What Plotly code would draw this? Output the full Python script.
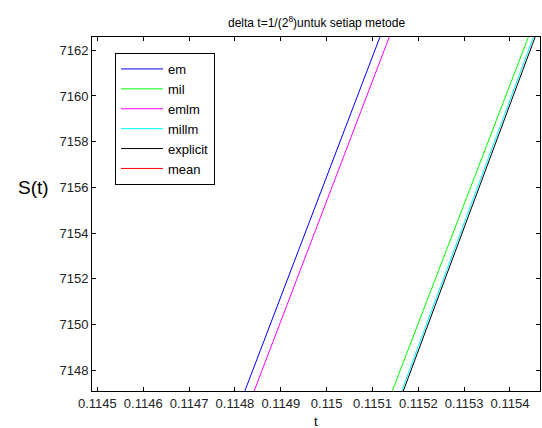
import plotly.graph_objects as go

# Data: each method's trajectory segment S(t) near t ~ 0.1150
S_vals = [7146.0, 7164.0]
t_em = [0.1148009, 0.1151434]
t_mil = [0.1151223, 0.1154674]
t_emlm = [0.1148212, 0.1151637]
t_millm = [0.1151436, 0.1154774]
t_explicit = [0.1151471, 0.1154812]
t_mean = [0.1156200, 0.1159600]

series = [
    ("em", t_em, "#0000ff"),
    ("mil", t_mil, "#00ff00"),
    ("emlm", t_emlm, "#ff00ff"),
    ("millm", t_millm, "#00ffff"),
    ("explicit", t_explicit, "#000000"),
    ("mean", t_mean, "#ff0000"),
]

x_ticks = [0.1145, 0.1146, 0.1147, 0.1148, 0.1149, 0.1150, 0.1151, 0.1152, 0.1153, 0.1154]
x_tick_text = ["0.1145", "0.1146", "0.1147", "0.1148", "0.1149", "0.115", "0.1151", "0.1152", "0.1153", "0.1154"]
y_ticks = [7148, 7150, 7152, 7154, 7156, 7158, 7160, 7162]

W, H = 542, 428
ML, MR, MT, MB = 92, 2, 37, 37
pw = W - ML - MR
ph = H - MT - MB


def px_x(x):
    return (x - ML) / pw


def px_y(y):
    return (H - MB - y) / ph


fig = go.Figure()
for name, t, c in series:
    fig.add_trace(go.Scatter(x=t, y=S_vals, mode="lines", name=name,
                             line=dict(color=c, width=1)))

font = "Liberation Sans, Arial, sans-serif"
axis_common = dict(showline=True, linecolor="black", linewidth=1, mirror="ticks",
                   ticks="inside", ticklen=4, tickcolor="black", showgrid=False,
                   zeroline=False, tickfont=dict(family=font, size=13, color="#222"))

fig.update_layout(
    width=W, height=H,
    margin=dict(l=ML, r=MR, t=MT, b=MB),
    paper_bgcolor="white", plot_bgcolor="white",
    showlegend=True,
    legend=dict(x=px_x(115), y=px_y(53), xanchor="left", yanchor="top",
                bordercolor="black", borderwidth=1, bgcolor="white",
                font=dict(family=font, size=13, color="black"),
                tracegroupgap=0, itemwidth=42),
    xaxis=dict(range=[0.11448821, 0.1154655], tickvals=x_ticks, ticktext=x_tick_text,
               **axis_common),
    yaxis=dict(range=[7147.09, 7162.58], tickvals=y_ticks, **axis_common),
    annotations=[
        dict(text="delta t=1/(2<sup>8</sup>)untuk setiap metode", x=0.5, y=px_y(22),
             xref="paper", yref="paper", xanchor="center", yanchor="middle", showarrow=False,
             font=dict(family=font, size=12, color="black")),
        dict(text="S(t)", x=px_x(33), y=px_y(187), xref="paper", yref="paper",
             xanchor="center", yanchor="middle", showarrow=False,
             font=dict(family=font, size=19, color="black")),
        dict(text="t", x=0.5, y=px_y(421), xref="paper", yref="paper",
             xanchor="center", yanchor="middle", showarrow=False,
             font=dict(family=font, size=13, color="black")),
    ],
)

fig.write_html("out.html", config={"displayModeBar": False},
               post_script="document.body.style.margin='0';document.body.style.overflow='hidden';")
